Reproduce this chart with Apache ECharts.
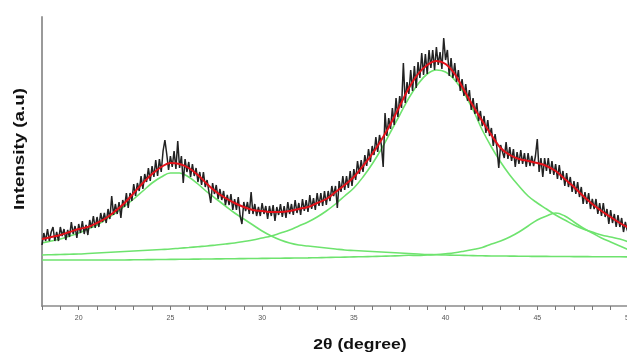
<!DOCTYPE html>
<html>
<head>
<meta charset="utf-8">
<script src="https://cdn.jsdelivr.net/npm/echarts@6/dist/echarts.min.js"></script>
<style>
html,body{margin:0;padding:0;background:#fff;overflow:hidden;}
#chart{width:627px;height:356px;}
</style>
</head>
<body>
<div id="chart"></div>
<script>
// 2-theta sampling grid
const twoThetaStart = 18;
const rawStep = 0.1;
const fitStep = 0.5;

// Measured (noisy) intensity, 18.0 .. 50.0 every 0.1 degree
const intensityRaw = [
 61,73,65,77,65,74,79,65,74,65,
 79,70,77,66,76,69,84,72,80,68,
 82,73,85,72,81,71,86,78,90,78,
 89,79,93,84,93,83,97,87,110,91,
 102,92,104,88,106,99,113,98,113,105,
 122,110,123,115,130,117,132,124,138,125,
 140,129,146,130,147,134,155,166,152,136,
 150,139,155,137,165,138,150,123,147,134,
 144,129,142,130,138,124,134,121,134,119,
 126,114,103,123,112,121,107,117,106,115,
 101,111,101,112,96,107,96,109,90,82,
 104,95,104,92,114,92,102,90,99,90,
 103,92,100,87,100,90,101,85,99,91,
 102,89,100,88,104,92,102,91,106,93,
 103,91,107,95,106,94,111,97,108,96,
 113,100,113,100,115,101,115,105,120,110,
 120,98,125,114,130,116,130,118,135,120,
 137,126,145,132,146,134,151,140,157,144,
 160,151,169,154,171,161,139,193,170,188,
 177,198,181,208,189,210,198,243,203,224,
 212,236,215,240,218,244,228,253,231,252,
 232,256,238,256,236,259,241,254,237,268,
 246,256,230,248,228,243,224,236,215,227,
 210,222,205,216,196,208,192,203,185,195,
 180,190,173,186,170,178,160,172,158,138,
 161,163,148,164,147,159,145,157,139,154,
 142,156,142,153,139,153,140,150,140,150,
 167,134,148,129,148,135,148,132,145,131,
 142,127,141,126,135,120,133,119,129,114,
 125,112,124,109,119,102,114,102,113,97,
 107,97,107,92,103,90,103,89,97,82,
 96,83,92,79,91,79,88,74,84,76,
 72
];

// Fitted total (red), 18.0 .. 50.0 every 0.5 degree
const fitTotal = [
 67,69,71,74,77,79,83,88,95,
 103,113,123,132,139,143,142,138,
 131,122,114,108,103,99,96,95,
 94,94,95,97,99,103,107,114,
 121,129,140,152,166,182,200,218,
 232,241,245,242,232,216,200,185,
 171,158,151,147,145,143,140,135,
 127,119,110,102,95,89,83,78
];

// Fitted component peaks (green), 18.0 .. 50.0 every 0.5 degree
const peak25 = [
 63,65,67,70,73,77,81,87,93,
 100,107,115,123,129,133,133,129,
 122,114,107,100,93,87,81,75,
 70,66,63,61,60,59,58,57,
 56,55.5,55,54.5,54,53.5,53,52.5,
 52,51.5,51.3,51,50.8,50.6,50.4,50.2,
 50,50,49.9,49.8,49.7,49.6,49.6,49.5,
 49.5,49.4,49.4,49.3,49.3,49.2,49.2,49.1
];
const peak39 = [
 51,51.3,51.5,51.8,52,52.5,53,53.5,54,
 54.5,55,55.5,56,56.5,57,57.8,58.5,
 59.3,60,61,62,63,64.5,66,68,
 70,73,76,80,84,89,95,102,
 110,118,129,142,157,174,191,208,
 222,232,236,234,226,213,196,176,
 159,144,131,120,110,103,97,91,
 86,81,77,74,71,69,67,64
];
const peak46 = [
 46,46,46,46,46,46,46,46,46,
 46,46.2,46.3,46.4,46.5,46.6,46.7,46.8,
 46.9,47,47.1,47.2,47.3,47.4,47.5,47.6,
 47.7,47.8,47.9,48,48.1,48.3,48.5,48.7,
 48.9,49.1,49.3,49.5,49.7,50,50.3,50.7,
 50.5,51,51.5,52.3,53.3,54.8,56.5,58.5,
 62,65,69,74,80,86,90,93,
 90,84,78,73,68,64,60,56
];

const tickLabels = ['20','25','30','35','40','45','50'];

function pairs(arr, step) {
  return arr.map((v, i) => [+(twoThetaStart + i * step).toFixed(2), v]);
}

const chart = echarts.init(document.getElementById('chart'), null, {renderer: 'canvas', width: 627, height: 356});
const green = '#6ee36e';
const greenLine = (name, arr) => ({
  name: name, type: 'line', data: pairs(arr, fitStep), smooth: 0.4,
  showSymbol: false, lineStyle: {color: green, width: 1.6}, z: 2, silent: true
});

chart.setOption({
  animation: false,
  backgroundColor: '#ffffff',
  grid: {left: 42, top: 17, width: 587, height: 289, containLabel: false, outerBoundsMode: 'none'},
  xAxis: {
    type: 'value', min: 18, max: 50, interval: 1,
    axisLine: {show: true, lineStyle: {color: '#8a8a8a', width: 1.5}},
    axisTick: {show: true, length: 4, lineStyle: {color: '#777', width: 1}},
    axisLabel: {
      show: true, fontSize: 7, color: '#555', margin: 9,
      fontFamily: 'Liberation Sans, Arial, sans-serif',
      formatter: v => tickLabels.indexOf(String(v)) >= 0 ? String(v) : ''
    },
    splitLine: {show: false}
  },
  yAxis: {
    type: 'value', min: 0, max: 289,
    axisLine: {show: true, lineStyle: {color: '#9a9a9a', width: 2}},
    axisTick: {show: false}, axisLabel: {show: false}, splitLine: {show: false}
  },
  graphic: [
    {type: 'text', x: 360, y: 345, scaleX: 1.17, scaleY: 1,
     style: {text: '2θ (degree)', font: 'bold 15px "Liberation Sans", Arial, sans-serif',
             fill: '#111', textAlign: 'center', textVerticalAlign: 'middle'}},
    {type: 'text', x: 20, y: 149, rotation: Math.PI / 2, scaleX: 1.25, scaleY: 1,
     style: {text: 'Intensity (a.u)', font: 'bold 15px "Liberation Sans", Arial, sans-serif',
             fill: '#111', textAlign: 'center', textVerticalAlign: 'middle'}}
  ],
  series: [
    greenLine('Peak 25°', peak25),
    greenLine('Peak 39.5°', peak39),
    greenLine('Peak 46°', peak46),
    {name: 'Measured', type: 'line', data: pairs(intensityRaw, rawStep), showSymbol: false,
     lineStyle: {color: '#222222', width: 1.5}, z: 3, silent: true},
    {name: 'Fit', type: 'line', data: pairs(fitTotal, fitStep), smooth: 0.4, showSymbol: false,
     lineStyle: {color: '#e3121a', width: 2}, z: 4, silent: true}
  ]
});
</script>
</body>
</html>
